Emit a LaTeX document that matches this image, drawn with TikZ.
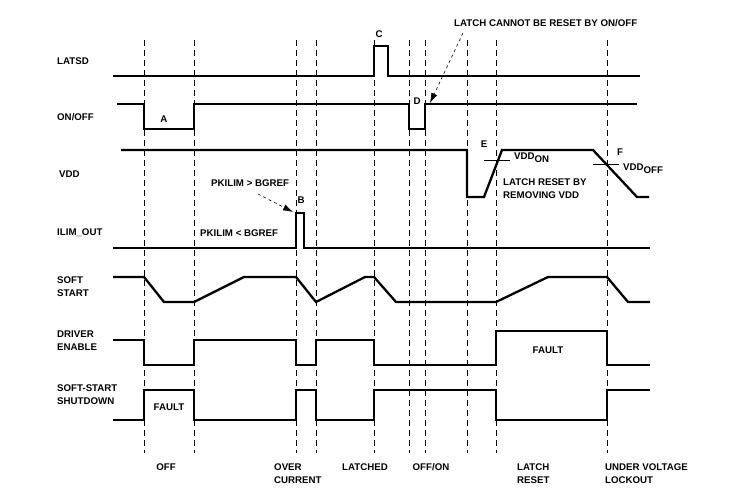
\documentclass[tikz,border=0pt]{standalone}
\usepackage{fontspec}
\setmainfont{Liberation Sans}
\usetikzlibrary{arrows.meta}
\begin{document}
\begin{tikzpicture}[x=1pt,y=-1pt,
  sig/.style={line width=2.3pt},
  guide/.style={line width=0.9pt,dash pattern=on 6pt off 4pt},
  thr/.style={line width=1pt},
  lbl/.style={inner sep=0pt,font=\fontsize{9.7}{13.3}\bfseries\selectfont},
  callout/.style={line width=0.6pt,dash pattern=on 3pt off 3pt,-{Latex[length=10pt,width=6.5pt]}}]
\useasboundingbox (0,0) rectangle (741,492);
% dashed guides
\foreach \gx in {144,194,296,316,374,409,425,467,496,607}
  \draw[guide] (\gx,40) -- (\gx,453);
% signals
\draw[sig] (113,76) -- (374,76) -- (374,46) -- (388,46) -- (388,76) -- (640,76);
\draw[sig] (117,104) -- (144,104) -- (144,129) -- (194,129) -- (194,104) -- (409,104) -- (409,129) -- (425,129) -- (425,104) -- (637,104);
\draw[sig] (121,150) -- (467,150) -- (467,197) -- (484,197) -- (502,150) -- (593,150) -- (637,197) -- (649,197);
\draw[thr] (484,160) -- (510,160);
\draw[thr] (593,164) -- (619,164);
\draw[sig] (113,248) -- (296,248) -- (296,213) -- (304,213) -- (304,248) -- (650,248);
\draw[sig] (113,277) -- (144,277) -- (164,302) -- (194,302) -- (244,277) -- (296,277) -- (316,302) -- (365,277) -- (374,277) -- (396,302) -- (496,302) -- (548,277) -- (607,277) -- (628,302) -- (650,302);
\draw[sig] (113,340) -- (144,340) -- (144,365) -- (194,365) -- (194,340) -- (296,340) -- (296,365) -- (316,365) -- (316,340) -- (374,340) -- (374,365) -- (496,365) -- (496,331) -- (607,331) -- (607,365) -- (650,365);
\draw[sig] (113,420) -- (144,420) -- (144,390) -- (194,390) -- (194,420) -- (296,420) -- (296,390) -- (316,390) -- (316,420) -- (374,420) -- (374,390) -- (496,390) -- (496,420) -- (607,420) -- (607,390) -- (650,390);
% left labels
\node[lbl,anchor=west] (nlatsd) at (57,61) {LATSD};
\node[lbl,anchor=west] (nonoff) at (57,117) {ON/OFF};
\node[lbl,anchor=west] (nvdd) at (59,174) {VDD};
\node[lbl,anchor=west] (nilim) at (57,233) {ILIM\_OUT};
\node[lbl,anchor=west,align=left] (nss) at (57,287) {SOFT\\START};
\node[lbl,anchor=west,align=left] (nde) at (57,341) {DRIVER\\ENABLE};
\node[lbl,anchor=west,align=left] (nssd) at (57,395) {SOFT-START\\SHUTDOWN};
% event letters
\node[lbl] (lc) at (379,34) {C};
\node[lbl] (la) at (164,119) {A};
\node[lbl] (ld) at (417,101) {D};
\node[lbl] (lb) at (301,200) {B};
\node[lbl] (le) at (484,144) {E};
\node[lbl] (lf) at (620,152) {F};
% annotations
\node[lbl,anchor=west] (pkgt) at (211,183) {PKILIM > BGREF};
\node[lbl,anchor=west] (pklt) at (200,233) {PKILIM < BGREF};
\node[lbl,anchor=west] (lcn) at (454,23) {LATCH CANNOT BE RESET BY ON/OFF};
\node[lbl,anchor=west] (vdon) at (514,158) {VDD\raisebox{-0.3em}{ON}};
\node[lbl,anchor=west] (vdoff) at (623,169) {VDD\raisebox{-0.3em}{OFF}};
\node[lbl,anchor=west,align=left] (lrv) at (503,188.5) {LATCH RESET BY\\REMOVING VDD};
\node[lbl] (f1) at (548,350) {FAULT};
\node[lbl] (f2) at (169,407) {FAULT};
\coordinate (tipb) at (293,212);
\coordinate (tipd) at (430,103);
\draw[callout] (258,194) -- (tipb);
\draw[callout] (463,33) -- (tipd);
% bottom labels
\node[lbl] (boff) at (166,467) {OFF};
\node[lbl,anchor=west,align=left] (boc) at (274,474) {OVER\\CURRENT};
\node[lbl] (blat) at (365,467) {LATCHED};
\node[lbl] (bon) at (431,467) {OFF/ON};
\node[lbl,anchor=west,align=left] (blr) at (517,474) {LATCH\\RESET};
\node[lbl,anchor=west,align=left] (buv) at (605,474) {UNDER VOLTAGE\\LOCKOUT};
\end{tikzpicture}
\end{document}
